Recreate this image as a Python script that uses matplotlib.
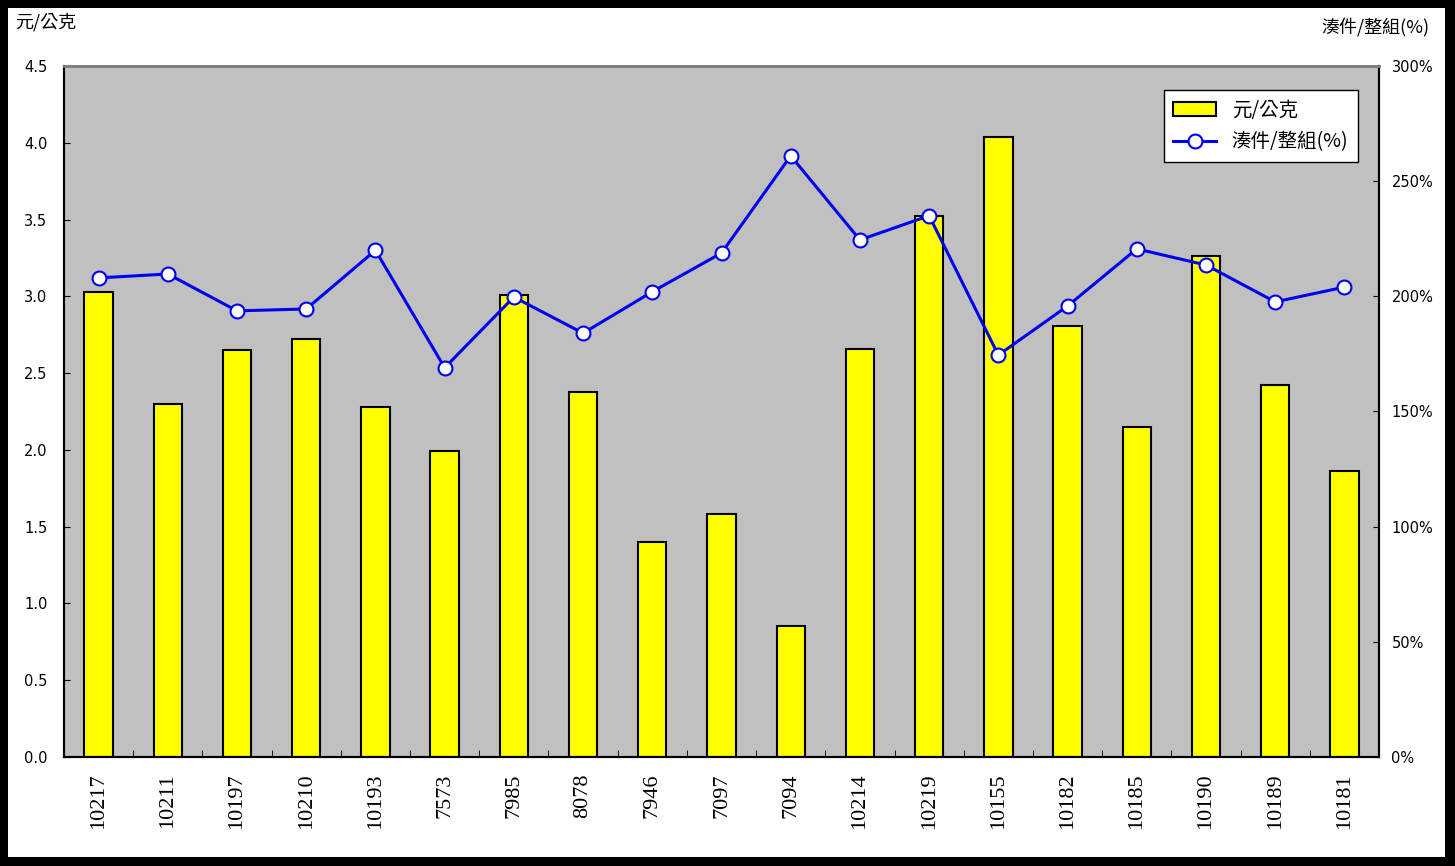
import matplotlib
matplotlib.use('Agg')
import matplotlib.pyplot as plt
import numpy as np
from matplotlib.patches import Rectangle

cjk = ['Noto Sans CJK TC', 'DejaVu Sans']

codes = ['10217', '10211', '10197', '10210', '10193', '7573', '7985', '8078', '7946',
         '7097', '7094', '10214', '10219', '10155', '10182', '10185', '10190', '10189', '10181']
price = [3.03, 2.30, 2.65, 2.72, 2.28, 1.99, 3.01, 2.38, 1.40,
         1.58, 0.85, 2.66, 3.52, 4.04, 2.81, 2.15, 3.26, 2.42, 1.86]
ratio = [208, 209.7, 193.7, 194.5, 220, 169, 199.7, 184, 202,
         218.8, 261, 224.5, 235, 174.5, 195.8, 220.6, 213.6, 197.6, 204]

W, H = 1455, 866
fig = plt.figure(figsize=(W / 100, H / 100), dpi=100)
fig.patch.set_facecolor('black')
fig.add_artist(Rectangle((8 / W, 9 / H), (1445 - 8) / W, (858 - 9) / H,
                         transform=fig.transFigure, facecolor='white',
                         edgecolor='none', zorder=-10))

ax = fig.add_axes([64 / W, (H - 757) / H, (1379 - 64) / W, (757 - 66) / H])
ax.set_facecolor('#C0C0C0')
x = np.arange(len(codes))

bars = ax.bar(x, price, width=0.41, color='#FFFF00', edgecolor='black',
              linewidth=1.5, label='元/公克', zorder=2)
ax.set_xlim(-0.5, len(codes) - 0.5)
ax.set_ylim(0, 4.5)
ax.set_yticks(np.arange(0, 4.51, 0.5))
ax.set_yticklabels([f'{v:.1f}' for v in np.arange(0, 4.51, 0.5)], fontsize=10.5)
ax.set_xticks(x)
ax.set_xticklabels(codes, rotation=90, fontsize=16, family='Liberation Serif')
ax.tick_params(axis='x', which='major', length=0, pad=12)
ax.set_xticks(np.arange(0.5, len(codes) - 0.5, 1), minor=True)
ax.tick_params(axis='x', which='minor', direction='in', length=5, color='black')
ax.tick_params(axis='y', direction='in', length=4, pad=12)

ax2 = ax.twinx()
line, = ax2.plot(x, ratio, color='#0000F0', linewidth=2.2, marker='o',
                 markersize=10, markerfacecolor='white', markeredgecolor='#0000F0',
                 markeredgewidth=1.5, label='湊件/整組(%)', zorder=3)
ax2.set_ylim(0, 300)
ax2.set_yticks(np.arange(0, 301, 50))
ax2.set_yticklabels([f'{v}%' for v in range(0, 301, 50)], fontsize=10.5)
ax2.tick_params(axis='y', direction='in', length=4, pad=9)

for a in (ax, ax2):
    a.spines['top'].set_color('#808080')
    a.spines['top'].set_linewidth(2)
    a.spines['left'].set_color('black')
    a.spines['left'].set_linewidth(1.5)
    a.spines['right'].set_color('black')
    a.spines['right'].set_linewidth(1.5)
    a.spines['bottom'].set_color('black')
    a.spines['bottom'].set_linewidth(1.5)

leg = ax2.legend([bars, line], ['元/公克', '湊件/整組(%)'],
                 loc='upper right', bbox_to_anchor=(1358 / W, (H - 90) / H),
                 bbox_transform=fig.transFigure, prop={'family': cjk, 'size': 14},
                 frameon=True, fancybox=False, edgecolor='black', framealpha=1,
                 handlelength=2.2, borderpad=0.5, labelspacing=0.55, borderaxespad=0)
leg.get_frame().set_linewidth(1)

fig.text(15 / W, (H - 22) / H, '元/公克', family=cjk, fontsize=13, va='center', ha='left')
fig.text(1430 / W, (H - 28) / H, '湊件/整組(%)', family=cjk, fontsize=13, va='center', ha='right')

fig.savefig('out.png', dpi=100, facecolor=fig.get_facecolor())
